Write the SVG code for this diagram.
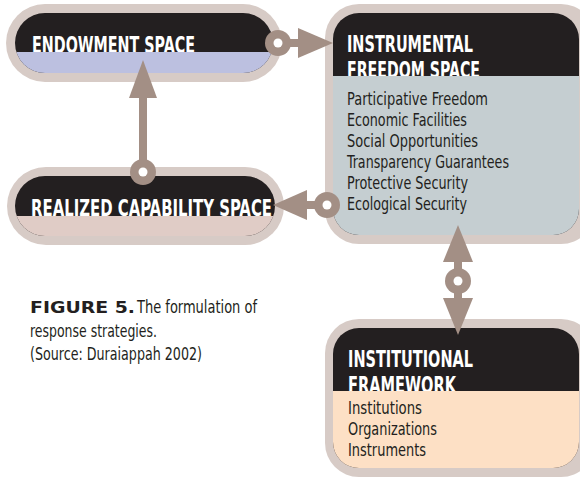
<svg xmlns="http://www.w3.org/2000/svg" width="580" height="481" viewBox="0 0 580 481">
<defs>
<style>
.outer{fill:#d7cbc6}
.blk{fill:#231f20}
.hd{font-family:"Liberation Sans Narrow","DejaVu Sans",sans-serif;font-stretch:condensed;font-weight:bold;font-size:23px;fill:#ffffff}
.bd{font-family:"Liberation Sans Narrow","DejaVu Sans",sans-serif;font-stretch:condensed;font-size:17px;fill:#231f20}
.fig{font-family:"DejaVu Sans",sans-serif;font-weight:bold;font-size:16px;fill:#231f20}
.con{fill:#a38f85}
.conl{stroke:#a38f85;stroke-width:8;fill:none}
.hole{fill:#ffffff}
</style>
<clipPath id="cE"><rect x="15" y="13" width="258" height="60" rx="30"/></clipPath>
<clipPath id="cI"><rect x="333" y="13" width="246" height="222" rx="26"/></clipPath>
<clipPath id="cR"><rect x="15" y="176" width="260" height="60" rx="30"/></clipPath>
<clipPath id="cF"><rect x="333" y="328" width="246" height="140" rx="26"/></clipPath>
</defs>
<rect width="580" height="481" fill="#ffffff"/>

<g id="endowment">
<rect class="outer" x="6" y="4" width="276" height="78" rx="39"/>
<g clip-path="url(#cE)">
<rect class="blk" x="15" y="13" width="258" height="60"/>
<text class="hd" x="32" y="53" textLength="163" lengthAdjust="spacingAndGlyphs">ENDOWMENT SPACE</text>
<rect x="15" y="52" width="258" height="21" fill="#bcc0e0"/>
</g>
</g>

<g id="instrumental">
<rect class="outer" x="325" y="4" width="270" height="240" rx="34"/>
<g clip-path="url(#cI)">
<rect class="blk" x="333" y="13" width="246" height="222"/>
<text class="hd" x="347" y="52" textLength="126" lengthAdjust="spacingAndGlyphs">INSTRUMENTAL</text>
<text class="hd" x="347" y="78" textLength="133" lengthAdjust="spacingAndGlyphs">FREEDOM SPACE</text>
<rect x="333" y="76" width="246" height="159" fill="#c5ced1"/>
</g>
<text class="bd" x="347" y="105" textLength="141" lengthAdjust="spacingAndGlyphs">Participative Freedom</text>
<text class="bd" x="347" y="126" textLength="120" lengthAdjust="spacingAndGlyphs">Economic Facilities</text>
<text class="bd" x="347" y="147" textLength="131" lengthAdjust="spacingAndGlyphs">Social Opportunities</text>
<text class="bd" x="347" y="168" textLength="162" lengthAdjust="spacingAndGlyphs">Transparency Guarantees</text>
<text class="bd" x="347" y="189" textLength="121" lengthAdjust="spacingAndGlyphs">Protective Security</text>
<text class="bd" x="347" y="210" textLength="120" lengthAdjust="spacingAndGlyphs">Ecological Security</text>
</g>

<g id="realized">
<rect class="outer" x="7" y="167" width="277" height="78" rx="39"/>
<g clip-path="url(#cR)">
<rect class="blk" x="15" y="176" width="260" height="60"/>
<text class="hd" x="31" y="216" textLength="241" lengthAdjust="spacingAndGlyphs">REALIZED CAPABILITY SPACE</text>
<rect x="15" y="216" width="260" height="20" fill="#e0ccc6"/>
</g>
</g>

<g id="institutional">
<rect class="outer" x="325" y="319" width="270" height="158" rx="34"/>
<g clip-path="url(#cF)">
<rect class="blk" x="333" y="328" width="246" height="140"/>
<text class="hd" x="348" y="367" textLength="125" lengthAdjust="spacingAndGlyphs">INSTITUTIONAL</text>
<text class="hd" x="348" y="393" textLength="108" lengthAdjust="spacingAndGlyphs">FRAMEWORK</text>
<rect x="333" y="391" width="246" height="77" fill="#fde0c5"/>
</g>
<text class="bd" x="348" y="414" textLength="74" lengthAdjust="spacingAndGlyphs">Institutions</text>
<text class="bd" x="348" y="435" textLength="89" lengthAdjust="spacingAndGlyphs">Organizations</text>
<text class="bd" x="348" y="456" textLength="78" lengthAdjust="spacingAndGlyphs">Instruments</text>
</g>

<g id="connectors">
<line class="conl" x1="278" y1="43" x2="302" y2="43"/>
<polygon class="con" points="298,28 333,43 298,58"/>
<circle class="con" cx="278" cy="43" r="13"/>
<circle class="hole" cx="278" cy="43" r="4.5"/>

<line class="conl" x1="143" y1="172" x2="143" y2="94"/>
<polygon class="con" points="129,98 143,60 157,98"/>
<circle class="con" cx="143" cy="172" r="13"/>
<circle class="hole" cx="143" cy="172" r="4.5"/>

<line class="conl" x1="327" y1="205" x2="303" y2="205"/>
<polygon class="con" points="307,190 273,205 307,220"/>
<circle class="con" cx="327" cy="205" r="13"/>
<circle class="hole" cx="327" cy="205" r="4.5"/>

<line class="conl" x1="458" y1="258" x2="458" y2="302"/>
<polygon class="con" points="443,262 458,225 473,262"/>
<polygon class="con" points="443,298 458,335 473,298"/>
<circle class="con" cx="458" cy="281" r="13"/>
<circle class="hole" cx="458" cy="281" r="4.5"/>
</g>

<g id="caption">
<text class="fig" x="30" y="313" textLength="105" lengthAdjust="spacingAndGlyphs">FIGURE 5.</text>
<text class="bd" x="137" y="313" textLength="120" lengthAdjust="spacingAndGlyphs">The formulation of</text>
<text class="bd" x="30" y="337" textLength="127" lengthAdjust="spacingAndGlyphs">response strategies.</text>
<text class="bd" x="30" y="360" textLength="172" lengthAdjust="spacingAndGlyphs">(Source: Duraiappah 2002)</text>
</g>
</svg>
